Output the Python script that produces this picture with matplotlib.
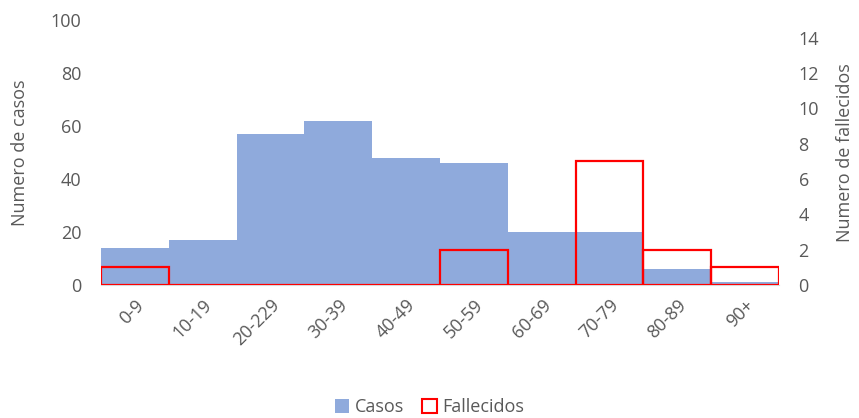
import matplotlib
matplotlib.use("Agg")
import matplotlib.pyplot as plt
import numpy as np
from matplotlib.patches import Patch

# datos
grupos = ["0-9", "10-19", "20-229", "30-39", "40-49", "50-59", "60-69", "70-79", "80-89", "90+"]
casos = [14, 17, 57, 62, 48, 46, 20, 20, 6, 1]
fallecidos = [1, 0, 0, 0, 0, 2, 0, 7, 2, 1]

plt.rcParams['font.family'] = ['Open Sans', 'DejaVu Sans']
gris = "#595959"
fs = 13

fig = plt.figure(figsize=(8.59, 4.18), dpi=100)
ax = fig.add_axes([0.1176, 0.318, 0.7894, 0.634])
ax2 = ax.twinx()

x = np.arange(len(grupos))
ax.bar(x, casos, width=1.0, color="#8FAADC", zorder=1)
ax2.bar(x, fallecidos, width=1.0, facecolor="none", edgecolor="#FF0000", linewidth=1.6, zorder=2)

ax.set_xlim(-0.5, len(grupos) - 0.5)
ax.set_ylim(0, 100)
ax.set_yticks(range(0, 101, 20))
ax2.set_ylim(0, 15)
ax2.set_yticks(range(0, 15, 2))

ax.set_xticks(x)
ax.set_xticklabels(grupos, rotation=45, ha="right", rotation_mode="anchor")

for a in (ax, ax2):
    for s in a.spines.values():
        s.set_visible(False)
    a.tick_params(length=0, labelsize=fs, colors=gris)
ax.spines["bottom"].set_visible(True)
ax.spines["bottom"].set_color("#D9D9D9")
ax.tick_params(axis="x", pad=8)
ax.tick_params(axis="y", pad=14)
ax2.tick_params(axis="y", pad=14)

ax.set_ylabel("Numero de casos", fontsize=fs, color=gris, labelpad=16)
ax2.set_ylabel("Numero de fallecidos", fontsize=fs, color=gris, labelpad=12)

handles = [Patch(facecolor="#8FAADC", edgecolor="none", label="Casos"),
           Patch(facecolor="white", edgecolor="#FF0000", linewidth=1.5, label="Fallecidos")]
fig.legend(handles=handles, loc="lower center", bbox_to_anchor=(0.5, -0.035), ncol=2, frameon=False,
           fontsize=fs, labelcolor=gris, handlelength=0.8, handleheight=0.8, handletextpad=0.3, columnspacing=1.0)

fig.savefig("out.png", dpi=100)
